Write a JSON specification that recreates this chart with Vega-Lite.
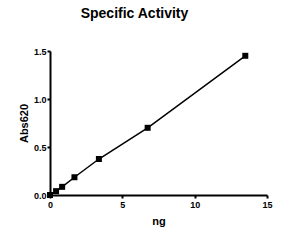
{
  "$schema": "https://vega.github.io/schema/vega-lite/v6.json",
  "width": 217,
  "height": 144,
  "autosize": {"type": "none"},
  "padding": {"left": 50, "top": 51, "right": 15, "bottom": 46},
  "background": "white",
  "title": {
    "text": "Specific Activity",
    "font": "Liberation Sans",
    "fontSize": 14,
    "fontWeight": "bold",
    "color": "black",
    "anchor": "middle",
    "dx": -24,
    "offset": 26
  },
  "data": {
    "values": [
      {"ng": 0, "abs": 0.0},
      {"ng": 0.42, "abs": 0.04},
      {"ng": 0.84, "abs": 0.085},
      {"ng": 1.69, "abs": 0.185},
      {"ng": 3.38, "abs": 0.375},
      {"ng": 6.75, "abs": 0.70},
      {"ng": 13.5, "abs": 1.45}
    ]
  },
  "config": {
    "view": {"stroke": null},
    "axis": {
      "labelFont": "Liberation Sans",
      "labelFontSize": 9,
      "labelFontWeight": "bold",
      "labelColor": "black",
      "titleFont": "Liberation Sans",
      "titleFontSize": 11,
      "titleFontWeight": "bold",
      "titleColor": "black",
      "domainColor": "black",
      "domainWidth": 2,
      "tickColor": "black",
      "tickWidth": 2,
      "tickSize": 3,
      "grid": false
    }
  },
  "encoding": {
    "x": {
      "field": "ng", "type": "quantitative",
      "scale": {"domain": [0, 15], "nice": false},
      "axis": {"values": [0, 5, 10, 15], "title": "ng", "labelPadding": 2, "titlePadding": 6, "labelFlush": false}
    },
    "y": {
      "field": "abs", "type": "quantitative",
      "scale": {"domain": [0, 1.5], "nice": false},
      "axis": {"values": [0, 0.5, 1.0, 1.5], "format": ".1f", "title": "Abs620", "labelPadding": 1, "titlePadding": 4, "labelFlush": false}
    }
  },
  "layer": [
    {"mark": {"type": "line", "color": "black", "strokeWidth": 1.5, "clip": false}},
    {"mark": {"type": "square", "color": "black", "size": 36, "opacity": 1, "filled": true, "clip": false}}
  ]
}
